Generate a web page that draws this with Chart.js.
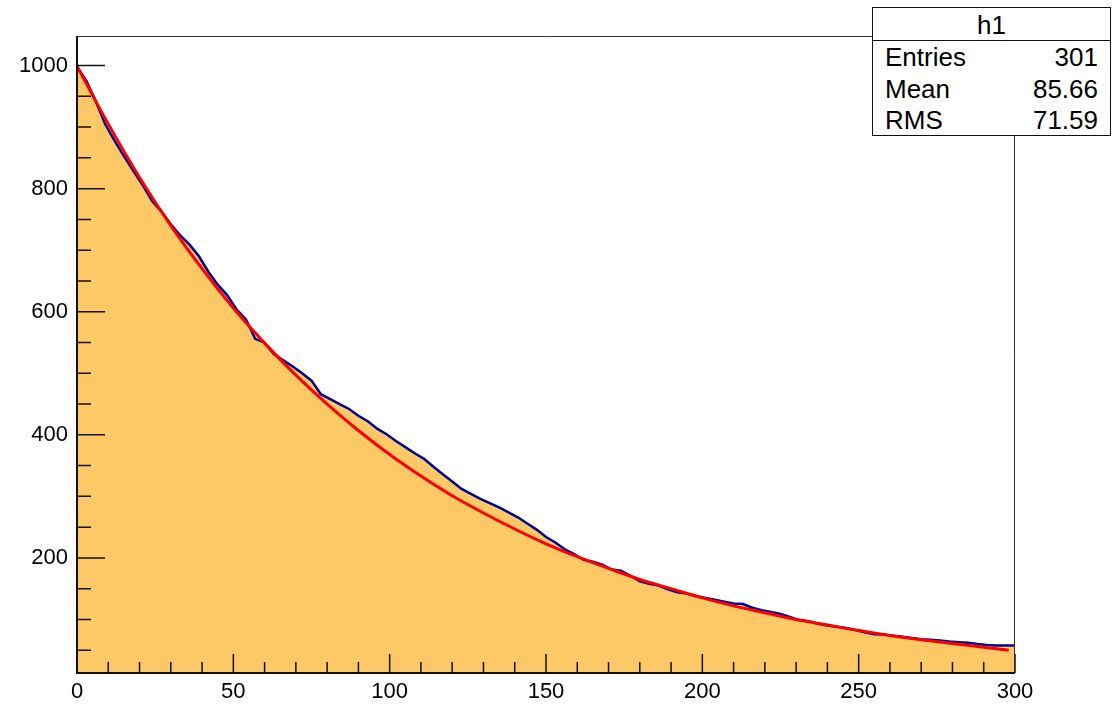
<!DOCTYPE html>
<html>
<head>
<meta charset="utf-8">
<title>h1</title>
<script src="https://cdn.jsdelivr.net/npm/chart.js@4.4.1/dist/chart.umd.min.js"></script>
<style>
    html, body { margin: 0; padding: 0; background: #ffffff; }
    #wrap { position: relative; width: 1113px; height: 704px; overflow: hidden; }
    #histChart { position: absolute; left: 0; top: 0; }
    .stats {
        position: absolute; left: 872px; top: 7px; width: 239px; height: 129px;
        box-sizing: border-box; border: 1px solid #111; background: #ffffff;
        font-family: "Liberation Sans", Arial, Helvetica, sans-serif; font-size: 26px; color: #000;
    }
    .stats .title { height: 32px; line-height: 34px; text-align: center; border-bottom: 1px solid #111; }
    .stats .row { height: 31.5px; line-height: 33px; padding: 0 12px 0 12px; display: flex; justify-content: space-between; }
</style>
</head>
<body>
<div id="wrap">
    <canvas id="histChart" width="1113" height="704"></canvas>
    <div class="stats" id="statsBox"></div>
</div>
<script>
// Histogram contents (bin position, content)
const histX = [0, 3, 6, 9, 12, 15, 18, 21, 24, 27, 30, 33, 36, 39, 42, 45, 48, 51, 54, 57,
    60, 63, 66, 69, 72, 75, 78, 81, 84, 87, 90, 93, 96, 99, 102, 105, 108, 111, 114, 117,
    120, 123, 126, 129, 132, 135, 138, 141, 144, 147, 150, 153, 156, 159, 162, 165, 168, 171, 174, 177,
    180, 183, 186, 189, 192, 195, 198, 201, 204, 207, 210, 213, 216, 219, 222, 225, 228, 231, 234, 237,
    240, 243, 246, 249, 252, 255, 258, 261, 264, 267, 270, 273, 276, 279, 282, 285, 288, 291, 294, 297, 300];
const histCounts = [998, 975, 942, 905, 878, 853, 829, 806, 780, 763, 742, 724, 709, 690, 665, 644, 627, 604, 588, 556,
    550, 531, 521, 511, 500, 488, 466, 458, 450, 442, 431, 422, 410, 401, 390, 380, 370, 361, 348, 336,
    324, 312, 304, 296, 289, 282, 274, 266, 256, 246, 234, 225, 214, 206, 197, 194, 189, 181, 179, 171,
    162, 158, 155, 149, 144, 142, 138, 135, 132, 129, 126, 125, 119, 115, 112, 109, 104, 99, 97, 93,
    90, 88, 86, 83, 79, 76, 75.5, 73.7, 72, 70, 68, 67, 66, 64, 63, 62, 60, 58.5, 57.5, 57.5, 57.5];

// Fitted curve
const fitX = [0, 10, 20, 30, 40, 50, 60, 70, 80, 90, 100, 110, 120, 130, 140, 150,
    160, 170, 180, 190, 200, 210, 220, 230, 240, 250, 260, 270, 280, 290, 298];
const fitY = [999, 905, 818, 740, 670, 606, 549, 497, 450, 407, 368, 333, 301, 273, 247, 223,
    202, 183, 165, 150, 135, 122, 111, 100, 91, 82, 74, 67, 61, 55, 50];

// Axis ticks
const xTickValues = [0, 50, 100, 150, 200, 250, 300];
const yTickValues = [200, 400, 600, 800, 1000];
const xMinorStep = 10;
const yMinorStep = 50;

// Stats box
const statsTitle = 'h1';
const statsLabels = ['Entries', 'Mean', 'RMS'];
const statsValues = ['301', '85.66', '71.59'];

document.addEventListener('DOMContentLoaded', () => {
    // Stats box text
    const box = document.getElementById('statsBox');
    const title = document.createElement('div');
    title.className = 'title';
    title.textContent = statsTitle;
    box.appendChild(title);
    statsLabels.forEach((label, i) => {
        const row = document.createElement('div');
        row.className = 'row';
        const l = document.createElement('span');
        l.textContent = label;
        const v = document.createElement('span');
        v.textContent = statsValues[i];
        row.appendChild(l);
        row.appendChild(v);
        box.appendChild(row);
    });

    // ROOT-style frame with inward ticks
    const frameTicks = {
        id: 'frameTicks',
        afterDatasetsDraw(chart) {
            const { ctx, chartArea: a, scales: { x, y } } = chart;
            ctx.save();
            ctx.strokeStyle = '#111';
            ctx.lineWidth = 1.5;
            ctx.beginPath();
            for (let v = x.min; v <= x.max; v += xMinorStep) {
                const px = x.getPixelForValue(v);
                const len = xTickValues.includes(v) ? 19 : 11;
                ctx.moveTo(px, a.bottom);
                ctx.lineTo(px, a.bottom - len);
            }
            for (let v = yMinorStep; v <= y.max; v += yMinorStep) {
                if (v < y.min) continue;
                const py = y.getPixelForValue(v);
                const len = yTickValues.includes(v) ? 28 : 14;
                ctx.moveTo(a.left, py);
                ctx.lineTo(a.left + len, py);
            }
            ctx.stroke();

            // frame: top/right thin, axes thicker
            ctx.strokeStyle = '#333';
            ctx.lineWidth = 1;
            ctx.beginPath();
            ctx.moveTo(a.left, a.top + 0.5);
            ctx.lineTo(a.right - 0.5, a.top + 0.5);
            ctx.lineTo(a.right - 0.5, a.bottom);
            ctx.stroke();
            ctx.strokeStyle = '#111';
            ctx.lineWidth = 2;
            ctx.beginPath();
            ctx.moveTo(a.left, a.top);
            ctx.lineTo(a.left, a.bottom);
            ctx.lineTo(a.right, a.bottom);
            ctx.stroke();
            ctx.restore();
        }
    };

    const ctx = document.getElementById('histChart').getContext('2d');
    new Chart(ctx, {
        type: 'line',
        data: {
            datasets: [
                {
                    label: 'fit',
                    data: fitX.map((v, i) => ({ x: v, y: fitY[i] })),
                    borderColor: '#ff0000',
                    borderWidth: 3,
                    pointRadius: 0,
                    fill: false,
                    cubicInterpolationMode: 'monotone',
                    order: 0
                },
                {
                    label: 'h1',
                    data: histX.map((v, i) => ({ x: v, y: histCounts[i] })),
                    borderColor: '#000099',
                    borderWidth: 2.5,
                    backgroundColor: '#fdc967',
                    pointRadius: 0,
                    fill: 'start',
                    tension: 0,
                    order: 1
                }
            ]
        },
        options: {
            responsive: false,
            animation: false,
            devicePixelRatio: 1,
            layout: { padding: { left: 0, right: 98, top: 36, bottom: 0 } },
            plugins: { legend: { display: false }, tooltip: { enabled: false } },
            scales: {
                x: {
                    type: 'linear',
                    min: 0,
                    max: 300,
                    afterBuildTicks: (s) => { s.ticks = xTickValues.map(v => ({ value: v })); },
                    afterFit: (s) => { s.height = 31; },
                    grid: { display: false, drawTicks: false },
                    border: { display: false },
                    ticks: {
                        padding: 6,
                        maxRotation: 0,
                        autoSkip: false,
                        color: '#000',
                        callback: (v) => String(v),
                        font: { family: '"Liberation Sans", Arial, sans-serif', size: 22 }
                    }
                },
                y: {
                    min: 13,
                    max: 1048,
                    afterBuildTicks: (s) => { s.ticks = yTickValues.map(v => ({ value: v })); },
                    afterFit: (s) => { s.width = 77; },
                    grid: { display: false, drawTicks: false },
                    border: { display: false },
                    ticks: {
                        padding: 9,
                        autoSkip: false,
                        color: '#000',
                        callback: (v) => String(v),
                        font: { family: '"Liberation Sans", Arial, sans-serif', size: 22 }
                    }
                }
            }
        },
        plugins: [frameTicks]
    });
});
</script>
</body>
</html>
